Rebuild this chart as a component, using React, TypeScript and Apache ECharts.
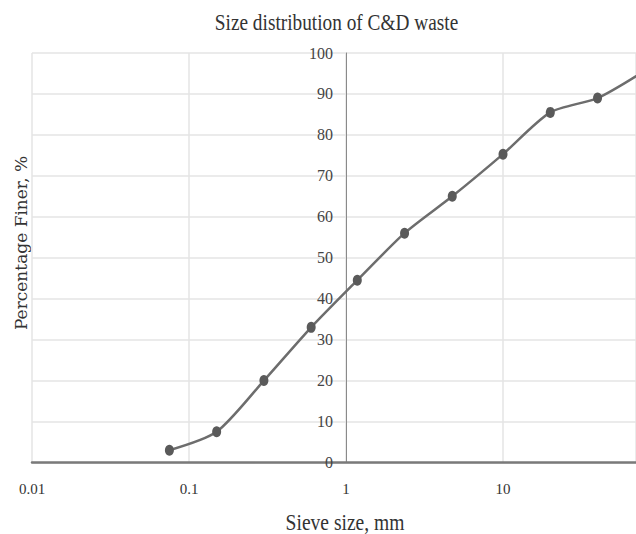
import React, { useEffect, useRef } from "react";
import * as echarts from "echarts";

const chartTitle = "Size distribution of C&D waste";
const xAxisName = "Sieve size, mm";
const yAxisName = "Percentage Finer, %";

// sieve sizes (mm) and percentage finer
const sieveSizes = [0.075, 0.15, 0.3, 0.6, 1.18, 2.36, 4.75, 10, 20, 40, 75];
const percentFiner = [3, 7.5, 20, 33, 44.5, 56, 65, 75.3, 85.5, 89, 95];

const xTickLabels = ["0.01", "0.1", "1", "10"];
const yTickLabels = ["0", "10", "20", "30", "40", "50", "60", "70", "80", "90", "100"];

// visible end of the (cropped) log axis
const xMin = 0.01;
const xMax = 70.3;

export default function App() {
  const ref = useRef<HTMLDivElement>(null);

  useEffect(() => {
    if (!ref.current) return;
    const chart = echarts.init(ref.current, undefined, { renderer: "svg" });
    const serif = "'Liberation Serif', 'Times New Roman', serif";
    chart.setOption({
      animation: false,
      backgroundColor: "#ffffff",
      grid: { left: 32, right: 0, top: 53, bottom: 71.5, containLabel: false },
      xAxis: {
        type: "log",
        logBase: 10,
        min: xMin,
        max: xMax,
        interval: 1,
        axisLine: { show: true, onZero: false, lineStyle: { color: "#7a7a7a", width: 2.5 } },
        axisTick: { show: false },
        minorTick: { show: false },
        axisLabel: {
          margin: 19,
          color: "#333",
          fontFamily: serif,
          fontSize: 15,
          showMaxLabel: false,
          formatter: (v: number) => {
            const l = Math.log10(v);
            if (Math.abs(l - Math.round(l)) > 0.01) return "";
            const i = Math.round(l) + 2;
            return xTickLabels[i] ?? "";
          },
        },
        splitLine: { show: true, lineStyle: { color: "#e4e4e4", width: 1.5 } },
      },
      yAxis: {
        type: "value",
        min: 0,
        max: 100,
        interval: 10,
        position: "left",
        offset: -314,
        axisLine: { show: true, onZero: false, lineStyle: { color: "#8a8a8a", width: 1 } },
        axisTick: { show: false },
        axisLabel: {
          margin: 13,
          color: "#444",
          fontFamily: serif,
          fontSize: 16,
          formatter: (v: number) => yTickLabels[Math.round(v / 10)] ?? String(v),
        },
        splitLine: { show: true, lineStyle: { color: "#e4e4e4", width: 1.5 } },
      },
      series: [
        {
          type: "line",
          data: sieveSizes.map((s, i) => [s, percentFiner[i]]),
          smooth: 0.25,
          symbol: "circle",
          symbolSize: [9, 11],
          clip: true,
          lineStyle: { color: "#6d6d6d", width: 2.5 },
          itemStyle: { color: "#5a5a5a" },
        },
      ],
      graphic: [
        {
          type: "text",
          x: 336.5,
          y: 22,
          scaleX: 0.84,
          style: {
            text: chartTitle,
            fontFamily: serif,
            fontSize: 23,
            fill: "#333",
            textAlign: "center",
            textVerticalAlign: "middle",
          },
        },
        {
          type: "text",
          x: 345,
          y: 522,
          scaleX: 0.85,
          style: {
            text: xAxisName,
            fontFamily: serif,
            fontSize: 23,
            fill: "#333",
            textAlign: "center",
            textVerticalAlign: "middle",
          },
        },
        {
          type: "text",
          x: 21,
          y: 243,
          rotation: Math.PI / 2,
          style: {
            text: yAxisName,
            fontFamily: "'DejaVu Serif', serif",
            fontSize: 17,
            fill: "#333",
            textAlign: "center",
            textVerticalAlign: "middle",
          },
        },
      ],
    });
    return () => chart.dispose();
  }, []);

  return (
    <div
      ref={ref}
      style={{ position: "fixed", left: 0, top: 0, width: 636, height: 534, overflow: "hidden" }}
    />
  );
}
